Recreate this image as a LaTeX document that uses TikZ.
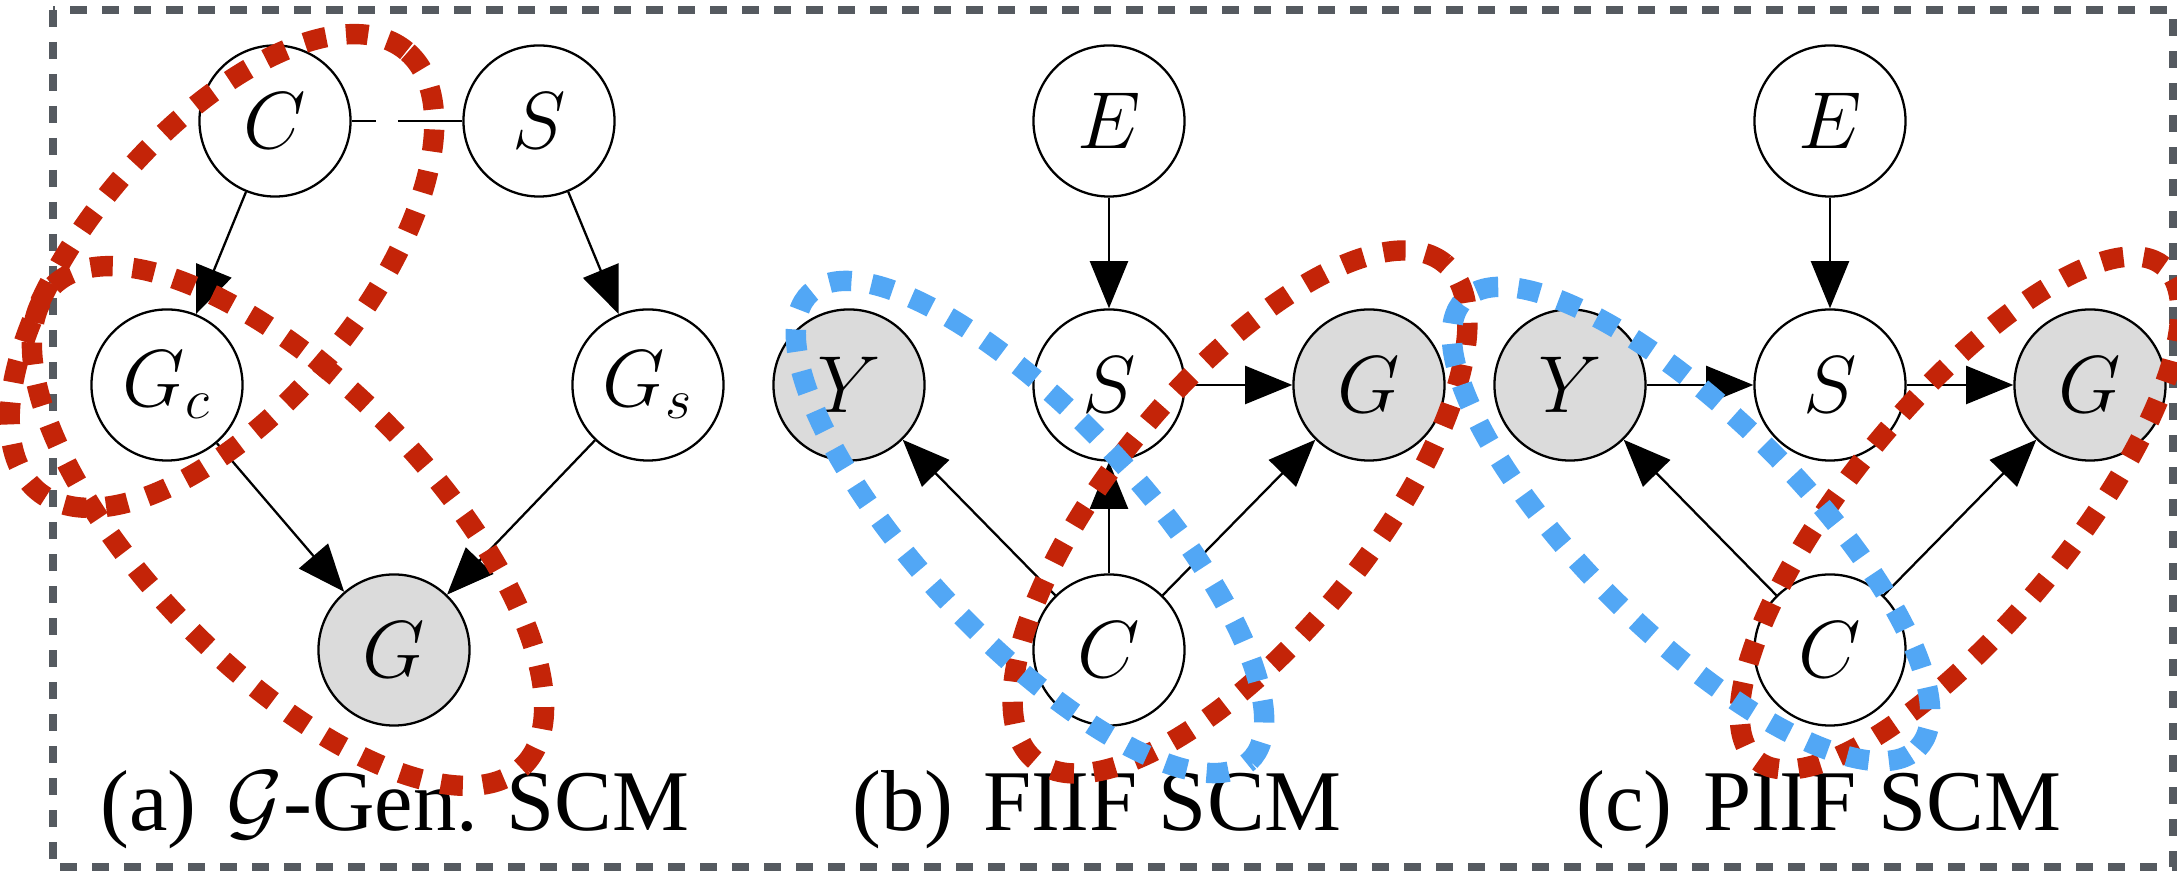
\RequirePackage{fix-cm}
\documentclass[tikz,border=0pt]{standalone}
\usepackage{fontspec}
\setmainfont{Liberation Serif}
\usepackage{tikz}
\usetikzlibrary{arrows.meta}

\definecolor{loopred}{RGB}{196,36,8}
\definecolor{loopblue}{RGB}{82,167,245}
\definecolor{obsgray}{RGB}{219,219,219}
\definecolor{framegray}{RGB}{85,90,96}

% dotted highlight loop: style, centre x, centre y, tilt, half length, half width (px)
\newcommand{\HighlightLoop}[6]{%
  \draw[#1, rotate around={#4:(#2,#3)}]
    (#2,#3) ellipse [x radius={0.01cm*#5}, y radius={0.01cm*#6}];
}

\begin{document}
\begin{tikzpicture}[x=0.01cm, y=-0.01cm,
  var/.style={circle, draw, line width=0.65pt, minimum size=1.51cm, inner sep=0pt,
    font=\fontsize{23}{28}\selectfont},
  obs/.style={var, fill=obsgray},
  edge/.style={line width=0.65pt, -{Triangle[length=13.4pt, width=10.8pt]}},
  redloop/.style={loopred, line width=5.8pt, dash pattern=on 6.3pt off 5.7pt},
  blueloop/.style={loopblue, line width=5.8pt, dash pattern=on 6.3pt off 5.7pt},
  caption/.style={anchor=base, font=\fontsize{24.6}{30}\selectfont}]

\useasboundingbox (0,0) rectangle (2177,880);

% ---------------- parameters ----------------
\pgfmathsetmacro{\RowTop}{121}   % E, C, S (top row)
\pgfmathsetmacro{\RowMid}{385}   % Y, S, G
\pgfmathsetmacro{\RowBot}{650}   % C / G (bottom row)
\pgfmathsetmacro{\PanelB}{1109}  % centre column of panel (b)
\pgfmathsetmacro{\PanelC}{1830}  % centre column of panel (c)
\pgfmathsetmacro{\Spread}{260}   % Y and G either side of S

% outer dashed frame
\draw[framegray, line width=2.3pt, dash pattern=on 4.8pt off 4.3pt]
  (53,10) rectangle (2173,867);

% ---------------- (a) G-Gen. SCM ----------------
\node[var] (aC)  at (275,\RowTop) {$C$};
\node[var] (aS)  at (539,\RowTop) {$S$};
\node[var] (aGc) at (167,\RowMid) {$G_c$};
\node[var] (aGs) at (648,\RowMid) {$G_s$};
\node[obs] (aG)  at (394,\RowBot) {$G$};

\draw[line width=0.65pt, dash pattern=on 6.8pt off 6.3pt on 30pt] (aC) -- (aS);
\draw[edge] (aC) -- (aGc);
\draw[edge] (aS) -- (aGs);
\draw[edge] (aGc) -- (aG);
\draw[edge] (aGs) -- (aG);

\node[caption] (capA) at (395,831) {(a)\hspace{0.35em}$\mathcal{G}$-Gen. SCM};

% ---------------- (b) FIIF SCM ----------------
\node[var] (bE) at (\PanelB,\RowTop) {$E$};
\node[var] (bS) at (\PanelB,\RowMid) {$S$};
\node[obs] (bY) at ({\PanelB-\Spread},\RowMid) {$Y$};
\node[obs] (bG) at ({\PanelB+\Spread},\RowMid) {$G$};
\node[var] (bC) at (\PanelB,\RowBot) {$C$};

\draw[edge] (bE) -- (bS);
\draw[edge] (bS) -- (bG);
\draw[edge] (bC) -- (bY);
\draw[edge] (bC) -- (bS);
\draw[edge] (bC) -- (bG);

\node[caption] (capB) at (1097,831) {(b)\hspace{0.35em}FIIF SCM};

% ---------------- (c) PIIF SCM ----------------
\node[var] (cE) at (\PanelC,\RowTop) {$E$};
\node[var] (cS) at (\PanelC,\RowMid) {$S$};
\node[obs] (cY) at ({\PanelC-\Spread},\RowMid) {$Y$};
\node[obs] (cG) at ({\PanelC+\Spread},\RowMid) {$G$};
\node[var] (cC) at (\PanelC,\RowBot) {$C$};

\draw[edge] (cE) -- (cS);
\draw[edge] (cY) -- (cS);
\draw[edge] (cS) -- (cG);
\draw[edge] (cC) -- (cY);
\draw[edge] (cC) -- (cG);

\node[caption] (capC) at (1819,831) {(c)\hspace{0.35em}PIIF SCM};

% ---------------- highlight loops (drawn on top) ----------------
\HighlightLoop{redloop}{222}{271}{50}{287}{137}
\HighlightLoop{redloop}{288}{526}{-45.6}{336}{142}
\HighlightLoop{redloop}{1240}{512}{50.5}{322}{128}
\HighlightLoop{blueloop}{1030}{527}{-46.8}{321}{111}
\HighlightLoop{redloop}{1960}{513}{50.5}{320}{109}
\HighlightLoop{blueloop}{1691}{524}{-44.7}{319}{108}

\end{tikzpicture}
\end{document}
